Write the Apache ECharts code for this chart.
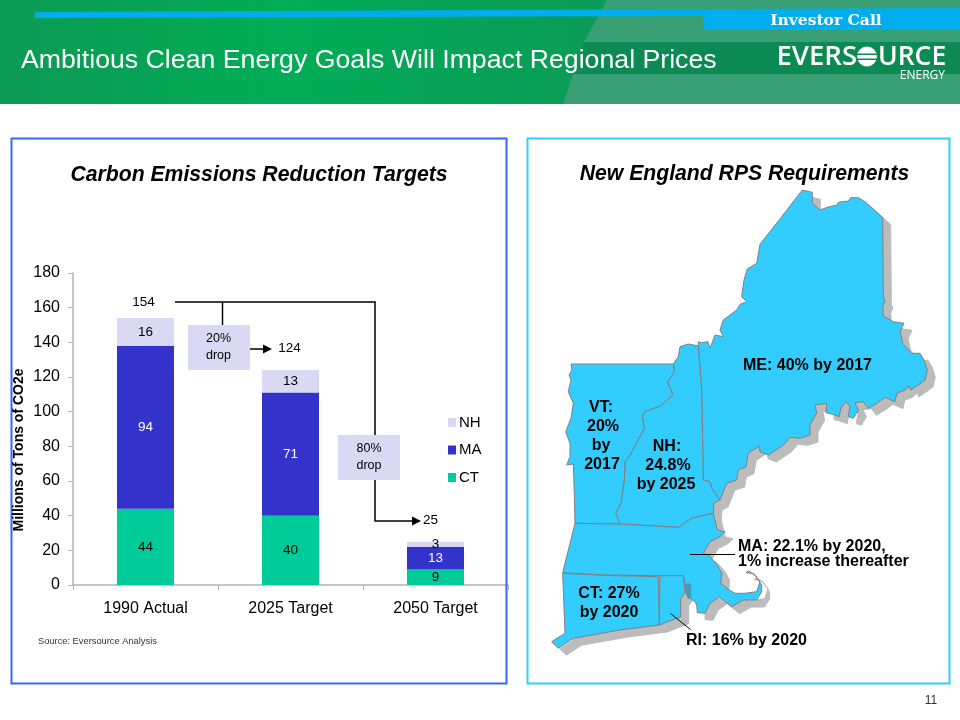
<!DOCTYPE html>
<html><head><meta charset="utf-8">
<script src="https://cdn.jsdelivr.net/npm/echarts@6/dist/echarts.min.js"></script>
<style>html,body{margin:0;padding:0;background:#fff}#c{width:960px;height:720px}</style>
</head><body><div id="c"></div>
<script>
const categories = ['1990 Actual', '2025 Target', '2050 Target'];
const ct = [44, 40, 9];
const ma = [94, 71, 13];
const nh = [16, 13, 3];
const totals = [154, 124, 25];

// State outlines
const maine = [[802.3,190],[812.3,192.3],[812.3,203.3],[820,210],[829.3,206.7],[837.3,205],[838.3,202.3],[848.3,201],[850.7,197.7],[858.3,197.7],[865,201.7],[873.3,209],[882.7,217.7],[883.3,298.3],[885,300],[882.7,306.7],[883.3,316],[893.3,321.7],[904,323.3],[900,331.7],[902.7,343.3],[911.7,353.3],[920,353.3],[924,360],[927.3,370],[925,380],[916.7,386],[910.7,390],[909.3,386],[905,390],[896.7,393.3],[895,401.7],[885,397.3],[876.7,403.3],[868.3,408.3],[863.3,401.7],[855,402.7],[858.3,410],[853.3,418.3],[848.3,416.7],[850,406.7],[846,401.7],[840.7,408.3],[839.3,416.7],[831.7,414],[826,412.7],[826.7,403.3],[815,405],[816.7,413.3],[810,425],[810,435],[800,438.3],[790,437.3],[783.3,445],[768.3,455],[760,451.7],[759.3,446],[748.3,453.3],[746,466.7],[738.3,470],[736.7,480],[726.7,483.3],[720,500],[711.7,488.3],[710,481.7],[703.3,480],[701.7,390],[698.3,346],[698.3,341.7],[701.7,342.7],[708,341.7],[710,348.3],[715,335],[723.3,336.7],[720,330],[723.3,320],[736.7,310],[740,304.3],[746.7,301.7],[741.7,296.7],[744,280],[747.3,269],[756.7,263.3],[760,244.3],[781.7,216.7]];
const newHampshire = [[673.3,364],[678.3,356.7],[680,346.7],[688.3,344],[698.3,346],[701.7,390],[703.3,480],[710,481.7],[711.7,488.3],[720,500],[714,503],[713.3,513.3],[691.7,518.3],[678.3,527.3],[620,524],[615.7,513.3],[621,503.3],[624.3,480],[625,461.7],[630,455],[644.3,428.3],[642.3,416.7],[644.3,411.7],[660,406],[672.7,395],[667.7,381.7],[674.3,371.7]];
const vermont = [[571,364],[673.3,364],[674.3,371.7],[667.7,381.7],[672.7,395],[660,406],[644.3,411.7],[642.3,416.7],[644.3,428.3],[630,455],[625,461.7],[624.3,480],[621,503.3],[615.7,513.3],[620,524],[575,523.3],[574.3,493.3],[573.3,464],[566.7,465],[570,456.7],[570,443.3],[565.7,431.7],[571,418.3],[573.3,403.3],[568.3,391.7],[571,380],[569,375],[572,370]];
const massachusetts = [[575,523.3],[620,524],[678.3,527.3],[691.7,518.3],[713.3,513.3],[717.3,530],[725,531.7],[720,536.7],[710,541.7],[703.3,553.3],[708.3,555],[717.3,565],[721.7,573.3],[720.7,583.3],[729.3,590],[735,593.3],[745,593.3],[756.7,591.7],[760,581.7],[753.3,573.3],[746,572.7],[748.3,571],[755,575],[761.7,585],[761.7,591.7],[756.7,600],[743.3,600],[731.7,606.7],[723.3,600],[719.3,596.7],[710,603.3],[705,613.3],[697.3,612.7],[696.7,603.3],[686.7,595],[683.3,575.7],[660,575.7],[606.7,575],[562.7,572.7]];
const connecticut = [[562.7,573.3],[606.7,575.5],[658.3,576.7],[659.3,625],[620,630],[573.3,638.3],[558.3,648.3],[551.7,641.7],[565,633.3]];
const rhodeIsland = [[660,575.7],[683.3,575.7],[685,593.3],[680.7,598.3],[680.7,616.7],[659.3,625]];
const bay = [[685,584],[690.7,584],[690.7,598.3],[688,598.3]];

const SANS = '"Liberation Sans", Arial, sans-serif';

const states = {ME: maine, NH: newHampshire, VT: vermont, MA: massachusetts, CT: connecticut, RI: rhodeIsland, Bay: bay};
const features = Object.keys(states).map(name => {
  const ring = states[name].map(p => [p[0], -p[1]]);
  ring.push(ring[0]);
  return {type: 'Feature', properties: {name}, geometry: {type: 'Polygon', coordinates: [ring]}};
});
echarts.registerMap('newEngland', {type: 'FeatureCollection', features});
const allPts = Object.values(states).flat();
const minX = Math.min(...allPts.map(p => p[0])), maxX = Math.max(...allPts.map(p => p[0]));
const minY = Math.min(...allPts.map(p => p[1])), maxY = Math.max(...allPts.map(p => p[1]));
function geoAt(dx, dy, area, border, z, regions) {
  return {
    map: 'newEngland', roam: false, silent: true, aspectScale: 1, z, regions: regions || [],
    left: minX + dx, top: minY + dy, width: maxX - minX, height: maxY - minY,
    label: {show: false}, emphasis: {disabled: true}, select: {disabled: true},
    itemStyle: {areaColor: area, borderColor: border, borderWidth: 1}
  };
}

function txt(text, x, y, font, fill, align) {
  return {type: 'text', style: {text, x, y, font, fill: fill || '#000',
    textAlign: align || 'center', align: align || 'center',
    textVerticalAlign: 'middle', verticalAlign: 'middle'}};
}
function poly(points, fill) {
  return {type: 'polygon', shape: {points}, style: {fill}};
}
function line(points, color, lw) {
  return {type: 'polyline', shape: {points}, style: {fill: 'none', stroke: color || '#000', lineWidth: lw || 1.5}};
}
function rect(x, y, width, height, style) {
  return {type: 'rect', shape: {x, y, width, height}, style};
}

const BOLD = 'bold 16px ' + SANS;
const graphics = [
  // header
  rect(0, 0, 960, 104, {fill: {type: 'linear', x: 0, y: 0, x2: 1, y2: 0, colorStops: [
    {offset: 0, color: '#0c9a54'}, {offset: 0.3, color: '#00ad56'}, {offset: 0.6, color: '#0a9c56'}, {offset: 1, color: '#0a9c56'}]}}),
  poly([[607, 0], [960, 0], [960, 104], [563, 104], [573, 74], [584, 42]], '#38a074'),
  poly([[584, 42], [960, 42], [960, 74], [573, 74]], '#0b8b53'),
  poly([[35, 12], [960, 8], [960, 30], [703, 30], [703, 16], [35, 18]], '#00aeef'),
  txt('Investor Call', 826, 21, 'bold 15.5px "DejaVu Serif", serif', '#fff'),
  txt('Ambitious Clean Energy Goals Will Impact Regional Prices', 21, 61, '26.7px ' + SANS, '#fff', 'left'),
  txt('EVERS', 857, 57, '600 27.5px "Open Sans", sans-serif', '#fff', 'right'),
  txt('URCE', 878, 57, '600 26.5px "Open Sans", sans-serif', '#fff', 'left'),
  {type: 'circle', shape: {cx: 867, cy: 56.5, r: 10}, style: {fill: '#fff'}},
  rect(856, 53.5, 22, 1.5, {fill: '#0b8b53'}),
  rect(856, 58.5, 22, 1.5, {fill: '#0b8b53'}),
  txt('ENERGY', 945, 75.5, '12px "Open Sans", sans-serif', '#fff', 'right'),
  // panels
  rect(11.5, 138.5, 495, 545, {fill: 'none', stroke: '#3366ff', lineWidth: 2}),
  rect(527.5, 138.5, 422, 545, {fill: 'none', stroke: '#33ccff', lineWidth: 2}),
  txt('Carbon Emissions Reduction Targets', 259, 175, 'italic bold 21.2px ' + SANS),
  txt('New England RPS Requirements', 744.5, 174, 'italic bold 21.2px ' + SANS),
  // chart annotations
  txt('Source: Eversource Analysis', 38, 641, '9.3px ' + SANS, '#333', 'left'),
  Object.assign(txt('Millions of Tons of CO2e', 0, 0, 'bold 14px ' + SANS), {x: 19.5, y: 450, rotation: Math.PI / 2}),
  line([[175, 302], [375, 302], [375, 521], [413, 521]]),
  poly([[412, 516.5], [421, 521], [412, 525.5]], '#000'),
  line([[222.5, 302], [222.5, 325]]),
  line([[250, 349], [264, 349]]),
  poly([[263, 344.5], [272, 349], [263, 353.5]], '#000'),
  rect(188, 325, 62, 45, {fill: '#d9d9f3'}),
  rect(338, 435, 62, 45, {fill: '#d9d9f3'}),
  txt('20%', 218.5, 339, '12.5px ' + SANS),
  txt('drop', 218.5, 356, '12.5px ' + SANS),
  txt('80%', 369, 449, '12.5px ' + SANS),
  txt('drop', 369, 466, '12.5px ' + SANS),
  // map labels
  txt('ME: 40% by 2017', 807.5, 366, BOLD),
  txt('VT:', 601, 408, BOLD), txt('20%', 603, 427, BOLD), txt('by', 601, 446, BOLD), txt('2017', 602, 465, BOLD),
  txt('NH:', 667, 447, BOLD), txt('24.8%', 668, 466, BOLD), txt('by 2025', 666, 485, BOLD),
  txt('MA: 22.1% by 2020,', 738, 547, BOLD, '#000', 'left'),
  txt('1% increase thereafter', 738, 562, BOLD, '#000', 'left'),
  txt('CT: 27%', 609, 594, BOLD), txt('by 2020', 609, 613, BOLD),
  txt('RI: 16% by 2020', 686, 641, BOLD, '#000', 'left'),
  line([[690, 554.5], [735, 554.5]], '#000', 1),
  line([[670.5, 613.5], [690.5, 629.5]], '#000', 1),
  txt('11', 931, 701, '12px ' + SANS, '#333')
].map(e => Object.assign(e, {z: 100}));

const inside = (color) => ({show: true, position: 'inside', color, fontFamily: SANS, fontSize: 13.5});
const option = {
  animation: false,
  backgroundColor: '#fff',
  textStyle: {fontFamily: SANS},
  grid: {left: 73, right: 452, top: 273, bottom: 135, containLabel: false},
  xAxis: {
    type: 'category', data: categories,
    axisLine: {lineStyle: {color: '#b3b3b3', width: 1.5}},
    axisTick: {show: true, alignWithLabel: false, length: 5, lineStyle: {color: '#b3b3b3'}},
    axisLabel: {color: '#000', fontFamily: SANS, fontSize: 16, margin: 16},
    splitLine: {show: false}
  },
  yAxis: {
    type: 'value', min: 0, max: 180, interval: 20,
    axisLine: {show: true, lineStyle: {color: '#b3b3b3', width: 1.5}},
    axisTick: {show: true, length: 5, lineStyle: {color: '#b3b3b3'}},
    axisLabel: {color: '#000', fontFamily: SANS, fontSize: 16, margin: 13},
    splitLine: {show: false}
  },
  legend: {
    orient: 'vertical', left: 443, top: 410, itemWidth: 8, itemHeight: 9, itemGap: 12.5,
    icon: 'rect', data: ['NH', 'MA', 'CT'], selectedMode: false,
    textStyle: {color: '#000', fontFamily: SANS, fontSize: 15, padding: [0, 0, 0, -2]}
  },
  geo: [
    geoAt(8, 7, '#bcbcbc', '#bcbcbc', 1),
    geoAt(0, 0, '#33ccff', '#808080', 2, [{name: 'Bay', itemStyle: {areaColor: '#4a98b8', borderColor: '#4a98b8'}}])
  ],
  series: [
    {name: 'CT', type: 'bar', stack: 'a', barWidth: 57, data: ct, itemStyle: {color: '#00cc99'}, label: inside('#000')},
    {name: 'MA', type: 'bar', stack: 'a', data: ma, itemStyle: {color: '#3333cc'}, label: inside('#fff')},
    {name: 'NH', type: 'bar', stack: 'a', data: nh, itemStyle: {color: '#d9d9f3'}, label: inside('#000')},
    {name: 'Total', type: 'line', data: totals.map((value, i) => ({value, label: {offset: [[-2, -3], [-1, -9], [-5, -9]][i]}})),
      symbol: 'circle', symbolSize: 1, itemStyle: {color: 'rgba(0,0,0,0)'}, lineStyle: {opacity: 0}, silent: true,
      label: {show: true, position: 'top', color: '#000', fontFamily: SANS, fontSize: 13.5}}
  ],
  graphic: graphics
};
echarts.init(document.getElementById('c'), null, {renderer: 'canvas'}).setOption(option);
</script></body></html>
